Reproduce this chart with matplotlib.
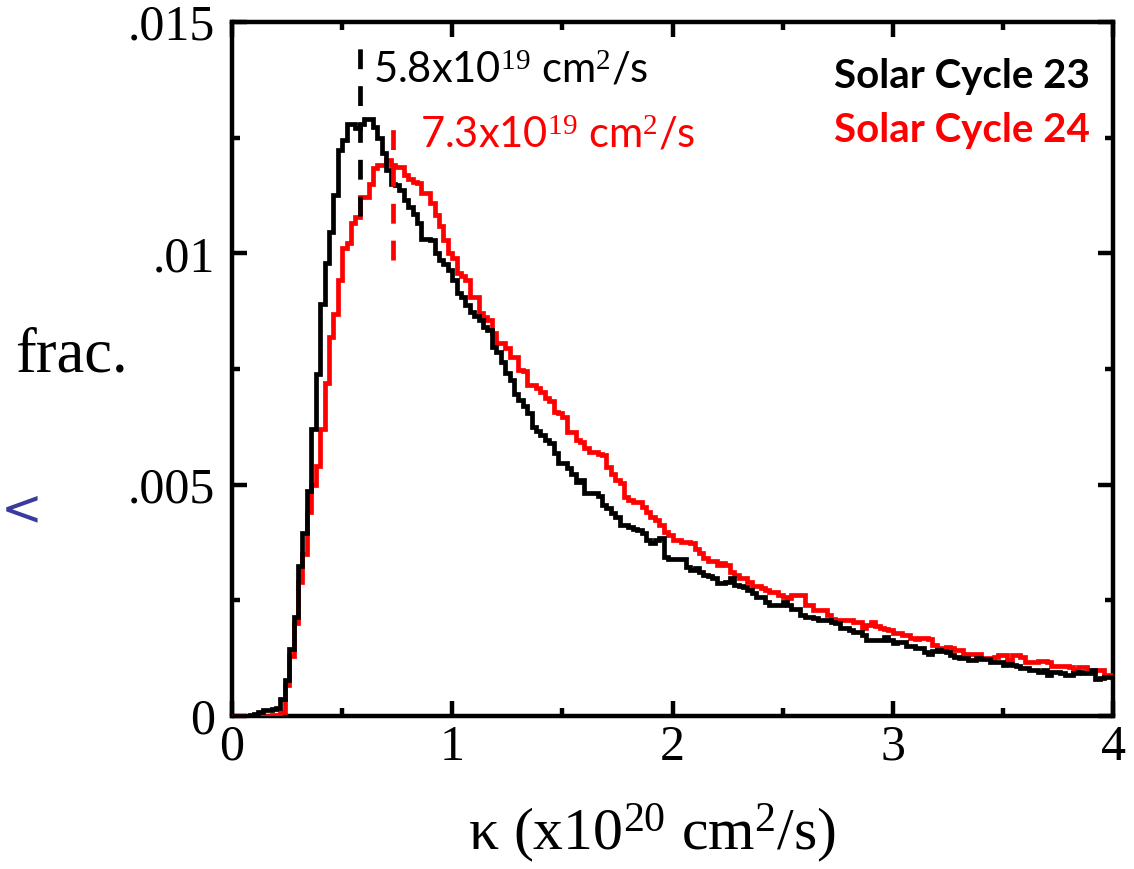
import numpy as np
import matplotlib
matplotlib.use("Agg")
import matplotlib.pyplot as plt

plt.rcParams['mathtext.fontset'] = 'custom'
plt.rcParams['mathtext.rm'] = 'Liberation Serif'
plt.rcParams['mathtext.it'] = 'Liberation Serif:italic'

# ---- data (fraction per bin, bins of width 0.02 in units of 1e20 cm^2/s) ----
bin_width = 0.02
cycle23 = [
    0, 0, 0, 0, 0.00003, 0.00004, 0.00008, 0.00013, 0.00014, 0.00016,
    0.00018, 0.00036, 0.00078, 0.00144, 0.00215, 0.00324, 0.00396, 0.00486, 0.0062, 0.0074,
    0.0089, 0.0098, 0.01047, 0.01126, 0.01223, 0.01246, 0.0128, 0.0128, 0.0127, 0.0128,
    0.0129, 0.0129, 0.01274, 0.01249, 0.01217, 0.0118, 0.0115, 0.01148, 0.01137, 0.01115,
    0.01101, 0.01085, 0.01065, 0.01032, 0.0103, 0.01029, 0.0100, 0.00986, 0.00978, 0.00964,
    0.00942, 0.00914, 0.00906, 0.00888, 0.00874, 0.00865, 0.00856, 0.00841, 0.00834, 0.00798,
    0.00787, 0.00766, 0.00741, 0.00726, 0.00697, 0.00683, 0.00669, 0.00654, 0.00625, 0.00615,
    0.00607, 0.00597, 0.0059, 0.00568, 0.00546, 0.00546, 0.00535, 0.00524, 0.00506, 0.0051,
    0.00481, 0.00481, 0.00481, 0.00475, 0.00456, 0.00449, 0.00438, 0.00431, 0.00413, 0.00413,
    0.00409, 0.00405, 0.00402, 0.00395, 0.0038, 0.00373, 0.0038, 0.00384, 0.00344, 0.0034,
    0.0034, 0.0034, 0.0034, 0.00323, 0.00316, 0.00319, 0.00312, 0.00305, 0.00302, 0.00298,
    0.00287, 0.00287, 0.0029, 0.00298, 0.00283, 0.00281, 0.00279, 0.00272, 0.00265, 0.00258,
    0.00258, 0.00247, 0.0024, 0.0024, 0.0024, 0.00247, 0.0024, 0.00231, 0.00231, 0.00218,
    0.00215, 0.00215, 0.00211, 0.00207, 0.00207, 0.00207, 0.00204, 0.002, 0.0019, 0.0019,
    0.00186, 0.00182, 0.00182, 0.00175, 0.00164, 0.00164, 0.00164, 0.00164, 0.00171, 0.00164,
    0.00157, 0.00161, 0.00161, 0.00151, 0.00151, 0.00148, 0.00146, 0.00139, 0.00135, 0.00141,
    0.00143, 0.00141, 0.00139, 0.00132, 0.00128, 0.00125, 0.00125, 0.00121, 0.00121, 0.00125,
    0.00124, 0.00123, 0.00117, 0.00117, 0.00117, 0.0011, 0.00112, 0.0011, 0.00107, 0.00104,
    0.00104, 0.00099, 0.00099, 0.00096, 0.00099, 0.00089, 0.00096, 0.00096, 0.00092, 0.00089,
    0.00089, 0.00092, 0.00096, 0.00092, 0.00092, 0.00099, 0.00081, 0.00083, 0.00085, 0.00085,
]
cycle24 = [
    0, 0, 0, 0, 0, 0, 0, 0, 0, 0.00002,
    0.00003, 0.00008, 0.00067, 0.0013, 0.0020, 0.0029, 0.0035, 0.0044, 0.0050, 0.0054,
    0.0062, 0.0072, 0.0082, 0.00869, 0.00942, 0.01011, 0.01023, 0.01065, 0.01079, 0.01122,
    0.01122, 0.0115, 0.01184, 0.01191, 0.01191, 0.01202, 0.0119, 0.01187, 0.01187, 0.01169,
    0.0116, 0.01155, 0.01151, 0.0113, 0.0113, 0.01108, 0.01083, 0.01058, 0.01029, 0.0100,
    0.00989, 0.00957, 0.0095, 0.00942, 0.00906, 0.00906, 0.0087, 0.00863, 0.00856, 0.00828,
    0.00806, 0.00806, 0.00795, 0.00777, 0.00777, 0.00748, 0.00745, 0.00715, 0.00715, 0.00708,
    0.00701, 0.00687, 0.0068, 0.00658, 0.00654, 0.00647, 0.00614, 0.00614, 0.00597, 0.00593,
    0.0058, 0.00571, 0.00571, 0.00567, 0.00564, 0.00539, 0.00524, 0.0051, 0.00503, 0.00474,
    0.00467, 0.00463, 0.00463, 0.00452, 0.00442, 0.00431, 0.00424, 0.00413, 0.00398, 0.00391,
    0.0038, 0.0038, 0.00377, 0.00377, 0.00373, 0.00362, 0.00352, 0.00341, 0.00334, 0.00334,
    0.00326, 0.0033, 0.00326, 0.00312, 0.00305, 0.00298, 0.00298, 0.0029, 0.0028, 0.0028,
    0.00276, 0.00272, 0.00268, 0.00268, 0.00262, 0.00258, 0.00256, 0.00262, 0.00262, 0.00262,
    0.0024, 0.0024, 0.00229, 0.00229, 0.00229, 0.00218, 0.0021, 0.00207, 0.00207, 0.00207,
    0.00207, 0.00203, 0.00203, 0.0019, 0.00197, 0.00204, 0.00194, 0.0019, 0.00188, 0.00186,
    0.0018, 0.0018, 0.00176, 0.00176, 0.00168, 0.00166, 0.00169, 0.00169, 0.00166, 0.00153,
    0.00146, 0.00148, 0.0015, 0.00146, 0.00143, 0.00143, 0.00135, 0.00135, 0.00135, 0.00135,
    0.00125, 0.00125, 0.00125, 0.00128, 0.00132, 0.00132, 0.00122, 0.00132, 0.00132, 0.00128,
    0.00117, 0.00117, 0.00117, 0.00118, 0.00118, 0.00116, 0.00107, 0.00107, 0.00107, 0.00107,
    0.00105, 0.00099, 0.00105, 0.00105, 0.00096, 0.00098, 0.00099, 0.00099, 0.00089, 0.00089,
]
medians = [0.58, 0.73]           # x1e20 cm^2/s
median_labels = ['5.8x10$^{19}$ cm$^2$/s', '7.3x10$^{19}$ cm$^2$/s']
series_labels = ['Solar Cycle 23', 'Solar Cycle 24']
colors = ['black', '#ff0000']
x_ticks = [0, 1, 2, 3, 4]
x_ticklabels = ['0', '1', '2', '3', '4']
y_ticks = [0, 0.005, 0.01, 0.015]
y_ticklabels = ['0', '.005', '.01', '.015']

edges = np.arange(len(cycle23) + 1) * bin_width

W, H = 1134, 869
fig = plt.figure(figsize=(W / 100, H / 100), dpi=100)
ax = fig.add_axes([232 / W, 1 - 716 / H, (1113 - 232) / W, (716 - 22) / H])

LW = 3.4
ax.stairs(cycle24, edges, color=colors[1], lw=LW, baseline=None, zorder=3)
ax.stairs(cycle23, edges, color=colors[0], lw=LW, baseline=None, zorder=4)

# median markers
ax.plot([medians[0], medians[0]], [0.0108, 0.0147], color=colors[0], lw=LW,
        dashes=(4.2, 3.6), zorder=5)
ax.plot([medians[1], medians[1]], [0.00985, 0.0129], color=colors[1], lw=LW,
        dashes=(4.2, 3.6), zorder=5)

ax.set_xlim(0, 4)
ax.set_ylim(0, 0.015)
ax.set_xticks(x_ticks)
ax.set_xticklabels(x_ticklabels)
ax.set_yticks(y_ticks)
ax.set_yticklabels(y_ticklabels)
ax.set_xticks(np.arange(0.5, 4, 1.0), minor=True)
ax.set_yticks(np.arange(0.0025, 0.015, 0.005), minor=True)

for s in ax.spines.values():
    s.set_linewidth(3.2)
ax.tick_params(which='both', direction='in', top=True, right=True, width=3.2)
ax.tick_params(which='major', length=11)
ax.tick_params(which='minor', length=6)
ax.tick_params(axis='x', which='major', pad=6)
ax.tick_params(axis='y', which='major', pad=12)
for lab in ax.get_xticklabels() + ax.get_yticklabels():
    lab.set_fontfamily('Liberation Serif')
    lab.set_fontsize(36)

sans = ['Lato', 'DejaVu Sans']
ax.text(0.64, 0.0137, median_labels[0], color=colors[0], fontsize=30,
        family=sans, va='baseline', ha='left', zorder=6)
ax.text(0.855, 0.01228, median_labels[1], color=colors[1], fontsize=30,
        family=sans, va='baseline', ha='left', zorder=6)

fig.text(1090 / W, 1 - 88 / H, series_labels[0], color=colors[0], fontsize=29,
         fontweight='bold', family=sans, va='baseline', ha='right')
fig.text(1090 / W, 1 - 142 / H, series_labels[1], color=colors[1], fontsize=29,
         fontweight='bold', family=sans, va='baseline', ha='right')

fig.text(15 / W, 1 - 372 / H, 'frac.', fontsize=45, family='Liberation Serif',
         va='baseline', ha='left')
fig.text(652 / W, 1 - 850 / H, 'κ (x10$^{20}$ cm$^2$/s)', fontsize=43,
         family='Liberation Serif', va='baseline', ha='center')
fig.text(1 / W, 1 - 524 / H, '<', fontsize=36, color='#3b3b9e',
         family='DejaVu Sans', va='baseline', ha='left')

fig.savefig('out.png', dpi=100)
